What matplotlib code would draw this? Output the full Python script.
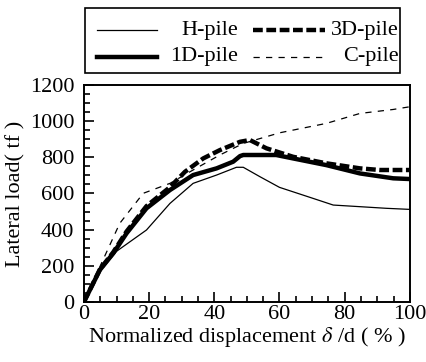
import matplotlib
matplotlib.use("Agg")
import matplotlib.pyplot as plt
from matplotlib.lines import Line2D
from matplotlib.patches import Rectangle
from matplotlib.ticker import MultipleLocator

plt.rcParams['font.family'] = ['Liberation Serif', 'DejaVu Serif']
plt.rcParams['mathtext.fontset'] = 'stix'

# data
h_x = [0, 4, 10, 19.2, 26.4, 33.5, 40.7, 46.8, 48.9, 54, 60, 70.3, 76.5, 84.7, 92.8, 100]
h_y = [0, 150, 280, 398, 545, 656, 702, 745, 745, 693, 634, 573, 536, 527, 518, 512]

d1_x = [0, 4.9, 9, 13.1, 19.2, 26.4, 33.5, 40.7, 45.8, 47.9, 48.9, 59, 64.2, 74.4, 84.7, 94.9, 100]
d1_y = [0, 177, 269, 380, 518, 619, 702, 739, 776, 807, 813, 813, 794, 757, 711, 684, 680]

d3_x = [0, 4.9, 9, 13.1, 19.2, 26.4, 31, 36.6, 41.7, 47.9, 50.9, 56, 64.2, 74.4, 84.7, 90.8, 100]
d3_y = [0, 180, 275, 390, 530, 635, 720, 794, 840, 886, 896, 850, 803, 767, 739, 730, 730]

c_x = [0, 4.9, 11, 18.2, 26.4, 33.5, 41.7, 48.9, 60.1, 74.4, 84.7, 94.9, 100]
c_y = [0, 195, 435, 601, 656, 730, 813, 877, 936, 988, 1043, 1065, 1080]

labels = ['H-pile', '1D-pile', '3D-pile', 'C-pile']

fig = plt.figure(figsize=(4.26, 3.62), dpi=100)
ax = fig.add_axes([0.197, 0.166, 0.765, 0.599])

ax.plot(h_x, h_y, color='black', lw=0.9)
ax.plot(d1_x, d1_y, color='black', lw=3.2)
ax.plot(d3_x, d3_y, color='black', lw=3.2, dashes=(2.2, 0.8))
ax.plot(c_x, c_y, color='black', lw=0.9, dashes=(5, 5))

ax.set_xlim(0, 100)
ax.set_ylim(0, 1200)
ax.xaxis.set_major_locator(MultipleLocator(20))
ax.xaxis.set_minor_locator(MultipleLocator(5))
ax.yaxis.set_major_locator(MultipleLocator(200))
ax.yaxis.set_minor_locator(MultipleLocator(50))
ax.tick_params(which='both', direction='in', top=False, right=False, labelsize=16, width=1.2)
ax.tick_params(which='major', length=7)
ax.tick_params(which='minor', length=4)
ax.tick_params(axis='x', which='major', pad=2)
ax.tick_params(axis='y', which='major', pad=7)
for s in ax.spines.values():
    s.set_linewidth(1.4)

ax.set_xlabel(r'Normalized displacement $\delta$ /d ( % )', fontsize=16, labelpad=1)
ax.set_ylabel('Lateral load( tf )', fontsize=16, labelpad=3)

# legend box drawn by hand so text sits right-aligned like the original
fig.patches.append(Rectangle((0.2, 0.798), 0.739, 0.18, transform=fig.transFigure,
                             fill=False, edgecolor='black', lw=1.2))
rows = [0.917, 0.843]
styles = [dict(lw=0.9), dict(lw=3.2), dict(lw=3.2, dashes=(2.2, 0.8)), dict(lw=0.9, dashes=(5, 5))]
cols = [(0.228, 0.369, 0.558), (0.594, 0.763, 0.935)]
for i, lab in enumerate(labels):
    c = cols[i // 2]
    r = rows[i % 2]
    fig.lines.append(Line2D([c[0], c[1]], [r, r], color='black', transform=fig.transFigure, **styles[i]))
    fig.text(c[2], r, lab, ha='right', va='center', fontsize=16)

fig.savefig('out.png', dpi=100)
